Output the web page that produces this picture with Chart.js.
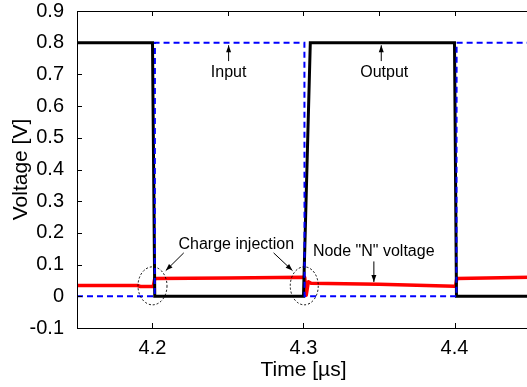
<!DOCTYPE html>
<html>
<head>
<meta charset="utf-8">
<script src="https://cdn.jsdelivr.net/npm/chart.js@4"></script>
<style>
  html, body { margin: 0; padding: 0; background: #fff; overflow: hidden; }
  #wrap { width: 530px; height: 387px; }
</style>
</head>
<body>
<div id="wrap"><canvas id="chart" width="530" height="387"></canvas></div>
<script>
// Time axis in microseconds, voltages in volts
const inputTime = [4.15, 4.2015, 4.2016, 4.3006, 4.3007, 4.4013, 4.4014, 4.45];
const inputVolt = [0, 0, 0.8, 0.8, 0, 0, 0.8, 0.8];

const outputTime = [4.15, 4.2, 4.2015, 4.3, 4.3045, 4.4, 4.4013, 4.45];
const outputVolt = [0.8, 0.8, 0, 0, 0.8, 0.8, 0, 0];

const nodeTime = [4.15, 4.19, 4.192, 4.2005, 4.2015, 4.25, 4.3, 4.3008, 4.3018, 4.3032, 4.305, 4.35, 4.4, 4.4007, 4.4015, 4.45];
const nodeVolt = [0.034, 0.034, 0.031, 0.031, 0.056, 0.058, 0.060, 0.060, 0.003, 0.046, 0.041, 0.038, 0.032, 0.032, 0.056, 0.060];

const xTickValues = [4.2, 4.3, 4.4];
const xTopTickValues = [4.2, 4.25, 4.3, 4.35, 4.4];

const FONT = '"Liberation Sans", Arial, Helvetica, sans-serif';

function toPoints(xs, ys) {
    return xs.map((x, i) => ({ x: x, y: ys[i] }));
}

// Boxed axes with inward ticks, plus the text/arrow annotations
const decorations = {
    id: 'decorations',
    afterDatasetsDraw(chart) {
        const ctx = chart.ctx;
        const area = chart.chartArea;
        const xs = chart.scales.x;
        const ys = chart.scales.y;
        const px = v => xs.getPixelForValue(v);
        const py = v => ys.getPixelForValue(v);

        ctx.save();
        ctx.strokeStyle = '#000';
        ctx.lineWidth = 1;
        ctx.setLineDash([]);
        ctx.strokeRect(Math.round(area.left) + 0.5, Math.round(area.top) + 0.5,
            Math.round(area.right - area.left), Math.round(area.bottom - area.top));

        ctx.beginPath();
        ys.ticks.forEach(t => {
            const y = Math.round(py(t.value)) + 0.5;
            ctx.moveTo(area.left, y);
            ctx.lineTo(area.left + 5, y);
        });
        xTickValues.forEach(v => {
            const x = Math.round(px(v)) + 0.5;
            ctx.moveTo(x, area.bottom);
            ctx.lineTo(x, area.bottom - 5);
        });
        xTopTickValues.forEach(v => {
            const x = Math.round(px(v)) + 0.5;
            ctx.moveTo(x, area.top);
            ctx.lineTo(x, area.top + 5);
        });
        ctx.stroke();

        function arrow(x1, y1, x2, y2) {
            const a = px(x1), b = py(y1), c = px(x2), d = py(y2);
            const ang = Math.atan2(d - b, c - a);
            ctx.beginPath();
            ctx.moveTo(a, b);
            ctx.lineTo(c, d);
            ctx.stroke();
            ctx.beginPath();
            ctx.moveTo(c, d);
            ctx.lineTo(c - 7 * Math.cos(ang) + 2.5 * Math.sin(ang), d - 7 * Math.sin(ang) - 2.5 * Math.cos(ang));
            ctx.lineTo(c - 7 * Math.cos(ang) - 2.5 * Math.sin(ang), d - 7 * Math.sin(ang) + 2.5 * Math.cos(ang));
            ctx.closePath();
            ctx.fill();
        }

        ctx.fillStyle = '#000';
        ctx.font = '16px ' + FONT;
        ctx.textAlign = 'center';
        ctx.textBaseline = 'middle';
        ctx.fillText('Input', px(4.2504), py(0.705));
        ctx.fillText('Output', px(4.3535), py(0.705));
        ctx.fillText('Charge injection', px(4.2555), py(0.163));
        ctx.fillText('Node "N" voltage', px(4.3465), py(0.1406));

        arrow(4.2504, 0.742, 4.2504, 0.792);
        arrow(4.3515, 0.742, 4.3515, 0.792);
        arrow(4.2207, 0.137, 4.2088, 0.081);
        arrow(4.2802, 0.137, 4.2927, 0.081);
        arrow(4.3466, 0.11, 4.3466, 0.045);

        ctx.setLineDash([2, 2]);
        ctx.beginPath();
        ctx.ellipse(px(4.2), py(0.033), 14.5, 19, 0, 0, Math.PI * 2);
        ctx.stroke();
        ctx.beginPath();
        ctx.ellipse(px(4.3005), py(0.033), 14, 19, 0, 0, Math.PI * 2);
        ctx.stroke();
        ctx.restore();
    }
};

const ctx = document.getElementById('chart').getContext('2d');
const chart = new Chart(ctx, {
    type: 'line',
    data: {
        datasets: [
            {
                label: 'Input',
                data: toPoints(inputTime, inputVolt),
                borderColor: '#0000ff',
                borderWidth: 2,
                borderDash: [6, 4],
                pointRadius: 0,
                order: 1
            },
            {
                label: 'Output',
                data: toPoints(outputTime, outputVolt),
                borderColor: '#000000',
                borderWidth: 3,
                pointRadius: 0,
                order: 2
            },
            {
                label: 'Node N',
                data: toPoints(nodeTime, nodeVolt),
                borderColor: '#ff0000',
                borderWidth: 3.5,
                borderJoinStyle: 'round',
                pointRadius: 0,
                order: 3
            }
        ]
    },
    options: {
        responsive: false,
        animation: false,
        layout: { padding: { top: 11, right: 0, left: 0, bottom: 0 } },
        plugins: {
            legend: { display: false },
            tooltip: { enabled: false }
        },
        scales: {
            x: {
                type: 'linear',
                min: 4.15,
                max: 4.45,
                grid: { display: false },
                border: { display: false },
                afterBuildTicks: axis => {
                    axis.ticks = xTickValues.map(v => ({ value: v }));
                },
                afterFit: axis => { axis.height = 59; },
                ticks: {
                    color: '#000',
                    padding: 2,
                    maxRotation: 0,
                    font: { family: FONT, size: 20, lineHeight: 1 },
                    callback: v => v.toFixed(1)
                },
                title: {
                    display: true,
                    text: 'Time [\u00b5s]',
                    color: '#000',
                    font: { family: FONT, size: 21 },
                    padding: { top: 0, bottom: 4 }
                }
            },
            y: {
                min: -0.1,
                max: 0.9,
                grid: { display: false },
                border: { display: false },
                afterFit: axis => { axis.width = 77; },
                ticks: {
                    stepSize: 0.1,
                    color: '#000',
                    padding: 5,
                    font: { family: FONT, size: 20, lineHeight: 0.6 },
                    callback: v => String(Math.round(v * 10) / 10)
                },
                title: {
                    display: true,
                    text: 'Voltage [V]',
                    color: '#000',
                    font: { family: FONT, size: 21 },
                    padding: { top: 9, bottom: 0 }
                }
            }
        }
    },
    plugins: [decorations]
});
</script>
</body>
</html>
